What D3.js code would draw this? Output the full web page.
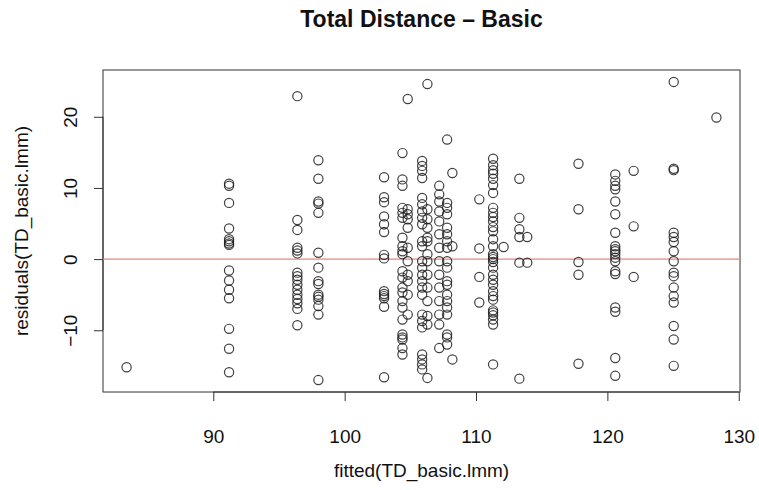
<!DOCTYPE html>
<html>
<head>
<meta charset="utf-8">
<script src="https://cdn.jsdelivr.net/npm/d3@7"></script>
<style>
  body { margin: 0; background: #fff; }
  text { font-family: "Liberation Sans", Arial, Helvetica, sans-serif; fill: #111; }
</style>
</head>
<body>
<svg id="chart" width="759" height="490"></svg>
<script>
// fitted value of each group and the residuals drawn at that fitted value
var fittedLevels = [83.4, 91.2, 96.4, 98.0, 103.0, 104.4, 104.8, 105.9, 106.3, 107.2, 107.8, 108.2,
    110.25, 111.3, 112.1, 113.3, 113.9, 117.8, 120.6, 122.0, 125.05, 128.3];

var residualsByLevel = [
    [-15.2],
    [10.6, 10.3, 7.9, 4.3, 2.8, 2.5, 2.2, 2.0, -1.6, -3.0, -4.3, -5.5, -9.8, -12.6, -15.9],
    [22.9, 5.5, 4.1, 1.6, 1.2, 0.8, -1.9, -2.4, -2.9, -3.6, -4.3, -5.0, -5.6, -6.2, -7.0, -9.3],
    [13.9, 11.3, 8.1, 7.8, 6.5, 0.9, -1.2, -3.1, -3.5, -5.0, -5.3, -5.7, -6.6, -7.8, -17.0],
    [11.5, 8.7, 8.0, 6.0, 4.9, 3.8, 0.6, 0.1, -4.5, -4.9, -5.2, -5.5, -6.7, -16.6],
    [14.9, 11.2, 10.3, 7.2, 6.5, 5.8, 3.0, 1.8, 1.1, 0.7, -1.7, -2.6, -4.0, -4.7, -5.9, -6.8, -8.5, -10.6, -11.0, -11.3, -12.5, -13.4],
    [22.5, 7.0, 6.3, 5.6, 4.4, 1.6, -0.3, -2.2, -3.1, -5.0, -7.8],
    [13.8, 13.1, 12.4, 11.4, 8.6, 7.7, 6.7, 5.8, 4.9, 2.5, 1.8, -0.3, -1.2, -2.2, -3.1, -4.0, -5.0, -7.8, -8.7, -9.6, -13.4, -14.1, -14.8, -15.5],
    [24.6, 7.0, 5.6, 4.4, 3.0, 2.5, 0.7, -0.3, -2.2, -4.0, -5.9, -8.0, -9.2, -16.7],
    [10.3, 9.1, 8.1, 6.7, 5.3, 3.5, 1.6, -0.3, -2.2, -4.0, -5.9, -7.8, -9.2, -12.5],
    [16.8, 7.9, 7.2, 6.3, 4.4, 3.5, 2.5, 1.6, -0.3, -1.2, -3.1, -3.6, -5.0, -5.9, -6.8, -7.8, -10.6, -11.0, -12.0],
    [12.1, 1.8, -14.1],
    [8.4, 1.5, -2.5, -6.1],
    [14.1, 13.2, 12.5, 12.0, 11.3, 10.4, 9.3, 7.2, 6.5, 5.9, 5.3, 4.5, 3.9, 2.8, 1.8, 0.7, 0.3, 0.0, -0.4, -1.2, -2.2, -2.9, -3.6, -4.5, -5.2, -5.7, -7.2, -7.5, -7.9, -8.5, -9.2, -14.8],
    [1.7],
    [11.3, 5.8, 4.2, 3.1, -0.5, -16.8],
    [3.1, -0.5],
    [13.4, 7.0, -0.4, -2.2, -14.7],
    [11.9, 11.0, 10.3, 9.8, 8.1, 6.3, 3.7, 1.8, 1.4, 1.1, 0.7, 0.2, -0.3, -1.7, -2.1, -6.8, -7.4, -13.9, -16.4],
    [12.4, 4.6, -2.5],
    [24.9, 12.7, 12.5, 3.7, 3.1, 2.4, 1.1, -0.3, -1.9, -2.4, -4.0, -5.2, -6.1, -9.4, -11.3, -15.0],
    [19.9]
];

var xTicks = [90, 100, 110, 120, 130];
var yTicks = [-10, 0, 10, 20];

var chartTitle = "Total Distance \u2013 Basic";
var xTitle = "fitted(TD_basic.lmm)";
var yTitle = "residuals(TD_basic.lmm)";

var points = [];
fittedLevels.forEach(function (f, i) {
    residualsByLevel[i].forEach(function (r) {
        points.push({fitted: f, resid: r});
    });
});

var svg = d3.select("#chart"),
    margin = {top: 70, right: 19, bottom: 98, left: 103},
    width = +svg.attr("width") - margin.left - margin.right,
    height = +svg.attr("height") - margin.top - margin.bottom;

// R style 4% padding round the data range
function padded(ext) {
    var d = (ext[1] - ext[0]) * 0.04;
    return [ext[0] - d, ext[1] + d];
}

var x = d3.scaleLinear()
    .domain(padded(d3.extent(points, function (d) { return d.fitted; })))
    .range([0, width]);

var y = d3.scaleLinear()
    .domain(padded(d3.extent(points, function (d) { return d.resid; })))
    .range([height, 0]);

var g = svg.append("g")
    .attr("transform", "translate(" + margin.left + "," + margin.top + ")");

var fmt = function (v) { return v < 0 ? "\u2212" + Math.abs(v) : "" + v; };

var xAxis = g.append("g")
    .attr("transform", "translate(0," + height + ")")
    .call(d3.axisBottom(x).tickValues(xTicks).tickSize(9).tickPadding(29).tickFormat(fmt));

var yAxis = g.append("g")
    .call(d3.axisLeft(y).tickValues(yTicks).tickSize(9).tickFormat(fmt));

[xAxis, yAxis].forEach(function (ax) {
    ax.select(".domain").remove();
    ax.selectAll("line").attr("stroke", "#333");
    ax.selectAll("text")
        .style("font-size", "19px")
        .attr("fill", "#111");
});

// axis lines only between first and last tick, like base R
xAxis.append("line")
    .attr("x1", x(xTicks[0])).attr("x2", x(xTicks[xTicks.length - 1]))
    .attr("stroke", "#333");
yAxis.append("line")
    .attr("y1", y(yTicks[0])).attr("y2", y(yTicks[yTicks.length - 1]))
    .attr("stroke", "#333");

yAxis.selectAll(".tick text")
    .attr("x", null).attr("dy", null)
    .attr("text-anchor", "middle")
    .attr("transform", "translate(-26,0) rotate(-90)");

g.append("rect")
    .attr("width", width)
    .attr("height", height)
    .attr("fill", "none")
    .attr("stroke", "#333");

g.append("line")
    .attr("x1", 0).attr("x2", width)
    .attr("y1", y(0)).attr("y2", y(0))
    .attr("stroke", "#e8877e")
    .attr("stroke-width", 1.3);

g.selectAll(".pt")
    .data(points)
    .enter()
    .append("circle")
    .attr("class", "pt")
    .attr("cx", function (d) { return x(d.fitted); })
    .attr("cy", function (d) { return y(d.resid); })
    .attr("r", 4.6)
    .attr("fill", "none")
    .attr("stroke", "#1e1e1e")
    .attr("stroke-opacity", 0.85)
    .attr("stroke-width", 1.2);

svg.append("text")
    .attr("x", margin.left + width / 2)
    .attr("y", 27)
    .attr("text-anchor", "middle")
    .style("font-size", "23px")
    .style("font-weight", "bold")
    .text(chartTitle);

svg.append("text")
    .attr("x", margin.left + width / 2)
    .attr("y", 477)
    .attr("text-anchor", "middle")
    .style("font-size", "19px")
    .text(xTitle);

svg.append("text")
    .attr("transform", "translate(28," + (margin.top + height / 2) + ") rotate(-90)")
    .attr("text-anchor", "middle")
    .style("font-size", "19px")
    .text(yTitle);
</script>
</body>
</html>
